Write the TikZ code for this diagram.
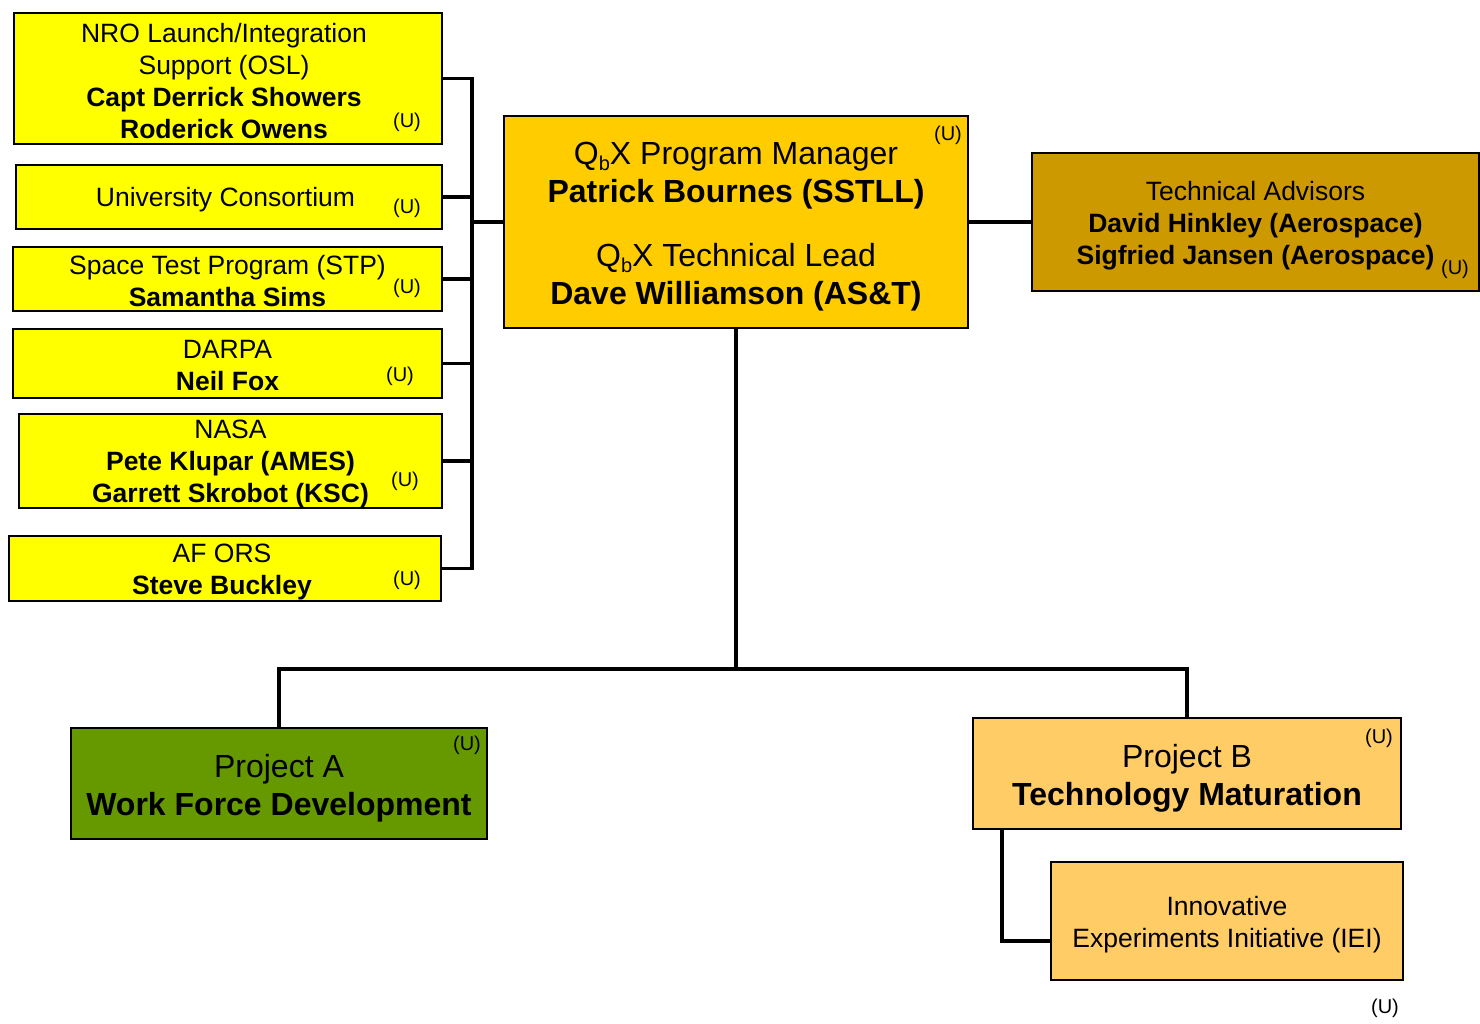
\documentclass[tikz,border=0pt]{standalone}
\usepackage{fontspec}
\setmainfont{Liberation Sans}
\definecolor{ylw}{HTML}{FFFF00}
\definecolor{gold}{HTML}{FFCC00}
\definecolor{ochre}{HTML}{CC9900}
\definecolor{olive}{HTML}{669900}
\definecolor{peach}{HTML}{FFCC66}
\newcommand{\Qb}{Q\raisebox{-0.35ex}{\fontsize{20}{20}\selectfont b}X}
\tikzset{
  box/.style={draw=black, line width=2pt, inner sep=0pt},
  txt/.style={inner sep=0pt, align=center, text=black},
  smalltxt/.style={txt, font=\fontsize{26.5}{32}\selectfont},
  bigtxt/.style={txt, font=\fontsize{32}{38}\selectfont},
  ulab/.style={inner sep=0pt, font=\fontsize{20}{24}\selectfont},
  conn/.style={draw=black, line width=3.5pt, line cap=rect}
}
\begin{document}
\begin{tikzpicture}[x=1pt,y=-1pt]
\useasboundingbox[fill=white] (0,0) rectangle (1480,1024);

% left boxes
\node[box, fill=ylw, minimum width=428, minimum height=131] (nro) at (228,78.5) {};
\node[smalltxt] (nrot) at ([xshift=-4pt,yshift=-3pt]nro.center)
  {NRO Launch/Integration\\Support (OSL)\\\textbf{Capt Derrick Showers}\\\textbf{Roderick Owens}};
\node[box, fill=ylw, minimum width=426, minimum height=64] (univ) at (229,197) {};
\node[smalltxt] (univt) at ([xshift=-3.5pt,yshift=-3pt]univ.center) {University Consortium};
\node[box, fill=ylw, minimum width=429, minimum height=64] (stp) at (227.5,279) {};
\node[smalltxt] (stpt) at ([yshift=-2pt]stp.center) {Space Test Program (STP)\\\textbf{Samantha Sims}};
\node[box, fill=ylw, minimum width=429, minimum height=69] (darpa) at (227.5,363.5) {};
\node[smalltxt] (darpat) at ([yshift=-2pt]darpa.center) {DARPA\\\textbf{Neil Fox}};
\node[box, fill=ylw, minimum width=423, minimum height=94] (nasa) at (230.5,461) {};
\node[smalltxt] (nasat) at ([yshift=-3pt]nasa.center)
  {NASA\\\textbf{Pete Klupar (AMES)}\\\textbf{Garrett Skrobot (KSC)}};
\node[box, fill=ylw, minimum width=432, minimum height=65] (afors) at (225,568.5) {};
\node[smalltxt] (aforst) at ([xshift=-3pt,yshift=-3pt]afors.center) {AF ORS\\\textbf{Steve Buckley}};

% main box
\node[box, fill=gold, minimum width=464, minimum height=212] (main) at (736,222) {};
\node[bigtxt] (maint) at ([yshift=-4.5pt]main.center)
  {\Qb{} Program Manager\\\textbf{Patrick Bournes (SSTLL)}\\[26pt]\Qb{} Technical Lead\\\textbf{Dave Williamson (AS\&T)}};

% technical advisors
\node[box, fill=ochre, minimum width=447, minimum height=138] (tech) at (1255.5,222) {};
\node[smalltxt] (techt) at ([yshift=-4pt]tech.center)
  {Technical Advisors\\\textbf{David Hinkley (Aerospace)}\\\textbf{Sigfried Jansen (Aerospace)}};

% projects
\node[box, fill=olive, minimum width=416, minimum height=111] (pa) at (279,783.5) {};
\node[bigtxt] (pat) at ([yshift=-4.5pt]pa.center) {Project A\\\textbf{Work Force Development}};
\node[box, fill=peach, minimum width=428, minimum height=111] (pb) at (1187,773.5) {};
\node[bigtxt] (pbt) at ([yshift=-4.5pt]pb.center) {Project B\\\textbf{Technology Maturation}};
\node[box, fill=peach, minimum width=352, minimum height=118] (iei) at (1227,921) {};
\node[smalltxt] (ieit) at ([yshift=-4pt]iei.center) {Innovative\\Experiments Initiative (IEI)};

% (U) labels
\node[ulab] (u1) at (407,122) {(U)};
\node[ulab] (u2) at (407,208) {(U)};
\node[ulab] (u3) at (407,288) {(U)};
\node[ulab] (u4) at (400,376) {(U)};
\node[ulab] (u5) at (405,481) {(U)};
\node[ulab] (u6) at (407,580) {(U)};
\node[ulab] (u7) at (948,135) {(U)};
\node[ulab] (u8) at (1455,269) {(U)};
\node[ulab] (u9) at (467,745) {(U)};
\node[ulab] (u10) at (1379,738) {(U)};
\node[ulab] (u11) at (1385,1008) {(U)};

% connectors
\coordinate (bus) at (472,222);
\coordinate (split) at (736,669);
\draw[conn] (nro.east) -| (bus);
\draw[conn] (univ.east) -| (bus);
\draw[conn] (stp.east) -| (bus);
\draw[conn] (darpa.east) -| (bus);
\draw[conn] (nasa.east) -| (bus);
\draw[conn] (afors.east) -| (bus);
\draw[conn] (bus) -- (main.west);
\draw[conn] (main.east) -- (tech.west);
\draw[conn] (main.south) -- (split);
\draw[conn] (split) -| (pa.north);
\draw[conn] (split) -| (pb.north);
\draw[conn] ([xshift=30pt]pb.south west) |- ([yshift=-20pt]iei.west);
\end{tikzpicture}
\end{document}
